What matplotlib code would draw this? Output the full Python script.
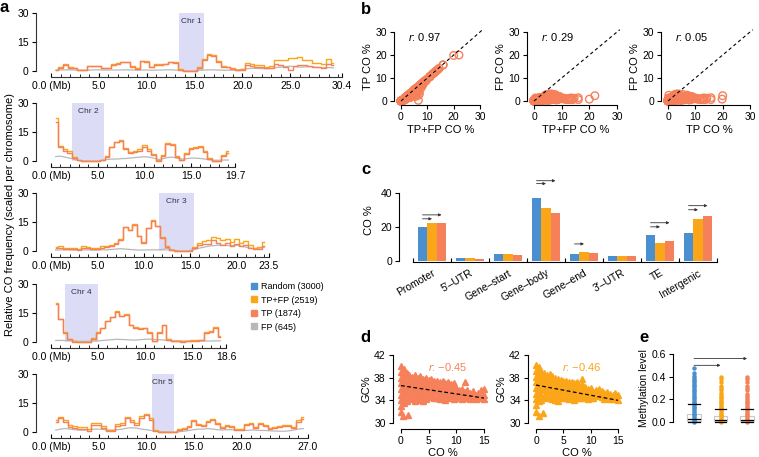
import matplotlib
matplotlib.use('Agg')
import matplotlib.pyplot as plt
from matplotlib.lines import Line2D
import numpy as np

plt.rcParams['font.family'] = ['Liberation Sans', 'DejaVu Sans']
plt.rcParams['mathtext.fontset'] = 'custom'
plt.rcParams['mathtext.it'] = 'Liberation Sans:italic'
plt.rcParams['mathtext.rm'] = 'Liberation Sans'
plt.rcParams['axes.linewidth'] = 0.8
plt.rcParams['xtick.major.width'] = 0.8
plt.rcParams['ytick.major.width'] = 0.8

BLUE = '#4a8fd0'
ORANGE = '#fba519'
CORAL = '#f5805a'
GRAY = '#b8b8b8'
CEN = '#dcdcf6'

# ---------------- panel a data (0.5 Mb windows starting at 0.5 Mb) ----------------
chrom_names = ['Chr 1', 'Chr 2', 'Chr 3', 'Chr 4', 'Chr 5']
chrom_len = [30.4, 19.7, 23.5, 18.6, 27.0]
centromere = [(13.4, 16.0), (2.3, 5.7), (11.6, 15.4), (1.5, 5.0), (10.6, 12.9)]
chrom_ticks = [[0, 5, 10, 15, 20, 25, 30.4], [0, 5, 10, 15, 19.7], [0, 5, 10, 15, 20, 23.5],
               [0, 5, 10, 15, 18.6], [0, 5, 10, 15, 20, 27.0]]

tpfp_chr1 = [0.5, 2.0, 3.5, 2.0, 1.7, 0.5, 0.5, 2.8, 2.8, 2.8, 1.7, 1.7, 3.5, 4.0, 4.9, 4.9, 2.5, 1.4, 5.4, 5.2,
             2.3, 3.5, 3.5, 3.8, 4.9, 4.5, 0.8, 0, 0, 0, 2.0, 6.0, 8.7, 8.2, 5.0, 2.5, 2.3, 1.5, 0.5, 1.0,
             4.3, 3.8, 3.1, 3.1, 2.3, 2.5, 5.7, 5.7, 5.5, 6.6, 6.6, 7.0, 5.7, 5.7, 4.0, 4.0, 3.5, 6.1, 4.0]
tp_chr1 = [0.3, 1.8, 3.2, 1.8, 1.5, 0.3, 0.3, 2.5, 2.5, 2.5, 1.5, 1.5, 3.2, 3.7, 4.6, 4.6, 2.2, 1.2, 5.1, 4.9,
           2.0, 3.2, 3.2, 3.5, 4.6, 4.2, 0.6, 0, 0, 0, 1.8, 5.8, 8.4, 7.9, 4.7, 2.2, 2.0, 1.2, 0.3, 0.6,
           3.0, 2.5, 2.0, 2.0, 1.3, 1.5, 3.5, 3.3, 2.0, 0.3, 2.5, 3.2, 3.0, 2.5, 2.0, 2.2, 1.5, 3.5, 3.0]
fp_chr1 = [0.4, 0.5, 0.6, 0.6, 0.5, 0.4, 0.4, 0.5, 0.6, 0.6, 0.5, 0.5, 0.5, 0.5, 0.6, 0.6, 0.5, 0.4, 0.5, 0.5,
           0.4, 0.5, 0.5, 0.6, 0.6, 0.5, 0.3, 0, 0, 0, 0.3, 0.5, 0.6, 0.6, 0.5, 0.4, 0.4, 0.5, 0.6, 0.8,
           1.2, 1.4, 1.3, 1.2, 1.2, 1.3, 1.8, 2.0, 2.3, 2.5, 2.2, 2.0, 2.1, 2.3, 2.0, 1.8, 1.6, 1.8, 1.6]

tpfp_chr2 = [22, 8, 6, 5, 2, 0.5, 0, 0, 0, 0, 0.6, 2.5, 7.5, 10, 11, 6.5, 4.5, 5.0, 6.0, 8.3,
             6.0, 3.5, 0.3, 3.0, 9.5, 9, 2.5, 0.5, 4.0, 6.6, 7.5, 7.8, 5.0, 1.4, 0, 0, 3.0, 5.0]
tp_chr2 = [20, 7, 5, 4, 1.6, 0.3, 0, 0, 0, 0, 0.4, 2.0, 7.0, 9.6, 10.5, 6.0, 4.0, 4.4, 5.2, 7.5,
           5.3, 3.0, 0.2, 2.5, 9.0, 8.5, 2.0, 0.3, 3.6, 6.0, 6.8, 7.0, 4.5, 1.2, 0, 0, 2.6, 4.2]
fp_chr2 = [2.3, 2.5, 2.0, 1.5, 0.8, 0.2, 0, 0, 0, 0, 0.3, 0.8, 1.0, 1.0, 1.2, 1.3, 1.5, 1.8, 2.0, 2.2,
           2.0, 1.5, 0.8, 1.2, 1.8, 2.0, 1.5, 1.0, 1.2, 1.5, 1.5, 1.3, 1.0, 0.6, 0.4, 0.4, 0.5, 0.5]

tpfp_chr3 = [2.0, 2.5, 1.5, 1.5, 1.5, 1.0, 2.5, 2.0, 1.5, 1.5, 2.5, 2.5, 3.0, 4.0, 6.0, 12.5, 11, 14, 8, 4.5,
             12, 16, 13, 7, 2.5, 0.5, 0, 0, 0, 0, 2.0, 4.0, 5.0, 5.5, 7.5, 6.5, 5.5, 6.0, 4.5, 6.0,
             4.0, 5.0, 3.0, 1.5, 2.0, 4.5]
tp_chr3 = [1.5, 1.8, 1.0, 1.0, 1.0, 0.5, 1.8, 1.5, 1.0, 1.0, 1.8, 2.0, 2.5, 3.6, 5.6, 12.2, 10.7, 13.7, 7.7, 4.2,
           11.7, 15.7, 12.7, 6.7, 2.2, 0.3, 0, 0, 0, 0, 1.5, 3.0, 3.5, 3.8, 5.5, 4.0, 3.0, 4.0, 2.5, 3.5,
           2.5, 3.0, 1.5, 0.8, 1.0, 2.5]
fp_chr3 = [0.5, 0.5, 0.6, 0.6, 0.5, 0.5, 0.6, 0.6, 0.5, 0.5, 0.6, 0.6, 0.8, 1.0, 1.2, 1.0, 0.8, 0.6, 0.5, 0.5,
           0.6, 0.6, 0.6, 0.8, 1.2, 0.8, 0.3, 0, 0, 0.3, 0.8, 1.5, 2.0, 2.5, 2.8, 3.0, 3.0, 2.8, 2.8, 3.0,
           2.5, 2.0, 1.5, 1.2, 1.5, 2.0]

tpfp_chr4 = [20, 12, 5, 1.5, 0.3, 0, 0, 0, 2.0, 5.0, 7.5, 11, 13, 16, 13.5, 14.5, 9, 8, 7, 7.5,
             5, 0.5, 5, 9, 1.5, 0.5, 0.5, 0.3, 0.5, 0.8, 1.0, 1.2, 5.0, 5.5, 8.0, 3.0]
tp_chr4 = [19.8, 11.8, 4.8, 1.3, 0.2, 0, 0, 0, 1.8, 4.7, 7.2, 10.7, 12.7, 15.7, 13.2, 14.2, 8.7, 7.5, 6.5, 7.0,
           4.6, 0.3, 4.7, 8.7, 1.2, 0.3, 0.3, 0.2, 0.3, 0.5, 0.6, 0.8, 4.7, 5.2, 7.5, 2.8]
fp_chr4 = [0.8, 0.8, 0.8, 0.7, 0.5, 0.3, 0.3, 0.4, 0.5, 0.6, 0.8, 1.0, 1.2, 1.4, 1.3, 1.2, 1.0, 1.0, 1.2, 1.4,
           1.5, 1.3, 1.2, 1.0, 0.8, 0.6, 0.6, 0.5, 0.5, 0.5, 0.4, 0.5, 0.5, 0.5, 0.6, 0.6]

tpfp_chr5 = [6, 8, 6, 3.5, 3, 2.5, 2.5, 1.5, 4.8, 4.5, 3, 1, 1.2, 4, 4.5, 8, 6, 4.5, 8.5, 9.5,
             7, 1, 0.2, 0, 0, 0, 1.5, 2, 3, 6, 4, 3.5, 5.5, 6.5, 4.5, 2.5, 3.5, 3, 1.5, 1.5,
             4, 4.5, 2.5, 4.5, 3.5, 2, 2.5, 3, 3.5, 3.5, 2.5, 6, 8]
tp_chr5 = [5, 7, 5, 2.5, 2, 1.5, 1.5, 0.5, 3.5, 3.5, 2, 0.3, 0.5, 3, 3.5, 7, 5, 3.5, 7.5, 8.8,
           6, 0.5, 0, 0, 0, 0, 1.2, 1.6, 2.5, 5.5, 3.5, 3, 5, 6, 4, 2, 3, 2.5, 1, 1,
           3.5, 4, 2, 4, 3, 1.5, 2, 2.5, 3, 3, 2, 5, 6.5]
fp_chr5 = [1.0, 1.5, 1.8, 1.5, 1.2, 1.0, 1.0, 1.2, 1.5, 1.5, 1.3, 1.0, 1.0, 1.2, 1.5, 2.0, 2.2, 2.0, 1.5, 1.2,
           0.8, 0.4, 0.1, 0, 0, 0, 0.2, 0.4, 0.8, 1.2, 1.5, 1.5, 1.8, 1.5, 1.2, 1.0, 1.2, 1.2, 1.0, 0.8,
           0.8, 1.0, 1.0, 0.8, 0.8, 0.6, 0.5, 0.4, 0.4, 0.6, 1.0, 1.5, 1.8]

tpfp_all = [tpfp_chr1, tpfp_chr2, tpfp_chr3, tpfp_chr4, tpfp_chr5]
tp_all = [tp_chr1, tp_chr2, tp_chr3, tp_chr4, tp_chr5]
fp_all = [fp_chr1, fp_chr2, fp_chr3, fp_chr4, fp_chr5]
win_start, win_step = 0.5, 0.5

legend_labels = ['Random (3000)', 'TP+FP (2519)', 'TP (1874)', 'FP (645)']

# ---------------- panel b ----------------
b_r = ['0.97', '0.29', '0.05']
b_xlabels = ['TP+FP CO %', 'TP+FP CO %', 'TP CO %']
b_ylabels = ['TP CO %', 'FP CO %', 'FP CO %']

# ---------------- panel c ----------------
features = ['Promoter', '5\u2032\u2013UTR', 'Gene\u2013start', 'Gene\u2013body', 'Gene\u2013end',
            '3\u2032\u2013UTR', 'TE', 'Intergenic']
c_random = [19.8, 1.8, 4.0, 36.6, 4.2, 3.2, 15.2, 16.4]
c_tpfp = [22.0, 1.6, 4.2, 30.9, 5.0, 3.2, 10.3, 24.6]
c_tp = [22.2, 1.4, 3.8, 28.1, 4.8, 3.0, 11.7, 26.5]
sig_groups = [0, 3, 4, 6, 7]
sig_short_y = [24.7, 45.3, 10.0, 20.0, 30.0]
sig_long_y = [27.0, 47.0, None, 22.4, 32.4]

# ---------------- panel d ----------------
d_tp_co = [0, 0, 0, 0, 0, 0, 0, 0, 0, 0.3, 0.5, 0.5, 0.5, 0.5, 0.5, 0.5, 0.5, 1, 1, 1, 1, 1, 1, 1.2,
           1.5, 1.5, 1.5, 1.5, 1.5, 2, 2, 2, 2, 2, 2.5, 2.5, 2.5, 2.5, 2.5, 2.5, 3, 3, 3, 3, 3,
           3.5, 3.5, 3.5, 3.5, 3.5, 4, 4, 4, 4, 4, 4.5, 4.5, 4.5, 4.5, 4.5, 5, 5, 5, 5, 5.5, 5.5, 5.5, 5.5,
           6, 6, 6, 6, 6.5, 6.5, 6.5, 6.5, 7, 7, 7, 7, 7.5, 7.5, 7.5, 7.5, 8, 8, 8, 8, 8.5, 8.5, 8.5, 8.5,
           9, 9, 9, 9.5, 9.5, 9.5, 9.5, 10, 10, 10, 10.5, 10.5, 11, 11, 11, 11.5, 11.5, 11.5, 12, 12,
           12.5, 12.5, 13, 13, 13.5, 13.5, 14, 14, 14.5, 14.5, 15, 15, 15]
d_tp_gc = [40.0, 39.0, 38.0, 37.0, 36.0, 35.0, 34.0, 33.0, 32.0, 31.2, 39.5, 38.5, 37.5, 36.5, 35.5, 34.5, 33.5,
           38.8, 37.8, 36.8, 35.8, 34.8, 33.8, 31.5, 38.5, 37.5, 36.5, 35.5, 34.5, 38.2, 37.2, 36.2, 35.2, 34.2,
           38.5, 37.5, 36.5, 35.5, 34.5, 33.8, 38.0, 37.0, 36.0, 35.0, 34.0, 38.3, 37.3, 36.3, 35.3, 34.3,
           37.8, 36.8, 35.8, 34.8, 33.8, 38.0, 37.0, 36.0, 35.0, 34.2, 37.6, 36.6, 35.6, 34.6, 37.8, 36.8, 35.8, 34.8,
           37.5, 36.5, 35.5, 34.5, 37.5, 36.5, 35.5, 34.5, 37.2, 36.2, 35.2, 34.2, 37.4, 36.4, 35.4, 34.4,
           37.0, 36.0, 35.0, 34.0, 37.2, 36.2, 35.2, 34.4, 36.8, 35.8, 34.8, 37.0, 36.0, 35.0, 34.2,
           36.2, 35.2, 34.4, 35.8, 34.8, 36.0, 35.0, 34.2, 37.3, 35.5, 34.5, 35.8, 34.8, 35.3, 34.3,
           35.6, 34.6, 35.0, 34.2, 35.3, 34.5, 35.8, 34.8, 36.0, 35.0, 34.2]
d_all_co = [0, 0, 0, 0, 0, 0, 0, 0, 0, 0.5, 0.5, 0.5, 0.5, 0.5, 0.5, 0.5, 0.5, 1, 1, 1, 1, 1, 1, 1.3,
            1.5, 1.5, 1.5, 1.5, 1.5, 2, 2, 2, 2, 2, 2.5, 2.5, 2.5, 2.5, 2.5, 3, 3, 3, 3, 3,
            3.5, 3.5, 3.5, 3.5, 3.5, 4, 4, 4, 4, 4, 4.5, 4.5, 4.5, 4.5, 5, 5, 5, 5, 5.5, 5.5, 5.5, 5.5,
            6, 6, 6, 6, 6.5, 6.5, 6.5, 6.5, 7, 7, 7, 7, 7.5, 7.5, 7.5, 7.5, 8, 8, 8, 8.5, 8.5, 8.5, 8.5,
            9, 9, 9, 9.5, 9.5, 9.5, 10, 10, 10, 10.5, 10.5, 11, 11, 11.5, 11.5, 12, 12, 12.5, 12.5,
            13, 13, 13.5, 13.5, 14, 14, 14.5, 14.5, 15, 15]
d_all_gc = [40.2, 39.2, 38.2, 37.2, 36.2, 35.2, 34.2, 33.2, 32.0, 31.3, 39.8, 38.8, 37.8, 36.8, 35.8, 34.8, 33.8,
            39.0, 38.0, 37.0, 36.0, 35.0, 34.0, 31.8, 38.8, 37.8, 36.8, 35.8, 34.6, 38.5, 37.5, 36.5, 35.5, 34.5,
            38.6, 37.6, 36.6, 35.6, 34.4, 38.3, 37.3, 36.3, 35.3, 34.3, 38.0, 37.0, 36.0, 35.0, 34.0,
            37.8, 36.8, 35.8, 34.8, 33.9, 37.6, 36.6, 35.6, 34.6, 37.4, 36.4, 35.4, 34.4, 37.5, 36.5, 35.5, 34.5,
            37.3, 36.3, 35.3, 34.3, 37.2, 36.2, 35.2, 34.4, 37.0, 36.0, 35.0, 34.0, 37.3, 36.3, 35.3, 34.5,
            36.4, 35.4, 34.4, 37.8, 36.8, 35.8, 34.8, 36.4, 35.4, 34.4, 36.0, 35.0, 34.2, 36.2, 35.2, 34.4,
            35.5, 34.5, 35.8, 34.8, 36.0, 35.0, 35.6, 34.6, 35.3, 34.3, 35.5, 34.5, 35.2, 34.2, 35.0, 34.2,
            35.3, 34.4, 35.0, 34.0]
d_fit_tp = (36.6, 34.4)     # fitted GC% at CO% = 0 and 15
d_fit_all = (36.7, 34.0)
d_r = ['\u22120.45', '\u22120.46']

# ---------------- panel e ----------------
e_random = [0.0, 0.01, 0.02, 0.03, 0.045, 0.06, 0.075, 0.09, 0.105, 0.12, 0.135, 0.15, 0.165, 0.18, 0.195,
            0.21, 0.225, 0.24, 0.255, 0.27, 0.285, 0.30, 0.315, 0.33, 0.345, 0.36, 0.375, 0.39, 0.41, 0.43, 0.48]
e_tpfp = [0.0, 0.01, 0.02, 0.03, 0.045, 0.06, 0.075, 0.09, 0.105, 0.12, 0.135, 0.15, 0.165, 0.18, 0.195,
          0.21, 0.225, 0.24, 0.26, 0.28, 0.30, 0.32, 0.35, 0.38, 0.40]
e_tp = [0.0, 0.01, 0.02, 0.03, 0.045, 0.06, 0.075, 0.09, 0.105, 0.12, 0.135, 0.15, 0.165, 0.18, 0.195,
        0.21, 0.23, 0.25, 0.28, 0.30, 0.32, 0.35, 0.38, 0.40]
e_q1 = [0.008, 0.005, 0.005]
e_q3 = [0.07, 0.05, 0.05]
e_mid = [0.025, 0.015, 0.015]
e_hi = [0.16, 0.115, 0.115]
e_lo = [0.0, 0.0, 0.0]

# ---------------- layout helpers ----------------
W, H = 759, 457
fig = plt.figure(figsize=(W / 100, H / 100), dpi=100)


def px_axes(left, top, right, bottom):
    return fig.add_axes([left / W, 1 - bottom / H, (right - left) / W, (bottom - top) / H])


def clean(ax):
    ax.spines['top'].set_visible(False)
    ax.spines['right'].set_visible(False)
    ax.tick_params(labelsize=7.5, length=3, pad=2)


# ---------------- panel a ----------------
chr_end_px = [342, 235, 269, 226, 308]
chr_y0_px = [71, 161, 251, 342, 432]
for i in range(5):
    L = chrom_len[i]
    ax = px_axes(51, chr_y0_px[i] - 58, chr_end_px[i], chr_y0_px[i])
    clean(ax)
    ax.set_xlim(0, L)
    ax.set_ylim(0, 30)
    ax.spines['left'].set_position(('outward', 11))
    ax.spines['bottom'].set_position(('outward', 4))
    ax.spines['left'].set_color('#333333')
    ax.spines['bottom'].set_color('#333333')
    c0, c1 = centromere[i]
    ax.axvspan(c0, c1, color=CEN, lw=0, zorder=0)
    ax.text((c0 + c1) / 2, 25.5, chrom_names[i], ha='center', va='center', fontsize=6, color='#333344')
    x_fp = win_start + win_step * np.arange(len(fp_all[i]))
    x_tpfp = win_start + win_step * np.arange(len(tpfp_all[i]))
    x_tp = win_start + win_step * np.arange(len(tp_all[i]))
    ax.plot(x_fp, fp_all[i], color=GRAY, lw=0.9, clip_on=False, zorder=2)
    ax.plot(x_tpfp, tpfp_all[i], color=ORANGE, lw=1.0, drawstyle='steps-mid', clip_on=False, zorder=3)
    ax.plot(x_tp, tp_all[i], color=CORAL, lw=1.0, drawstyle='steps-mid', clip_on=False, zorder=4)
    ax.set_yticks([0, 15, 30])
    ticks = chrom_ticks[i]
    ax.set_xticks(ticks)
    ax.set_xticklabels(['0.0 (Mb)'] + ['%.1f' % t for t in ticks[1:]])
    ax.set_xticks(np.arange(0, L, 1.0), minor=True)
    ax.tick_params(axis='x', which='both', direction='in')
    ax.tick_params(axis='x', which='major', length=3, pad=3)
    ax.tick_params(axis='x', which='minor', length=2)

fig.text(10 / W, 1 - 215 / H, 'Relative CO frequency (scaled per chromosome)', rotation=90,
         ha='center', va='center', fontsize=8)

handles = [Line2D([], [], marker='s', ls='', color=c, ms=4) for c in [BLUE, ORANGE, CORAL, GRAY]]
fig.legend(handles, legend_labels, loc='upper left', bbox_to_anchor=(250 / W, 1 - 282 / H),
           frameon=False, fontsize=6.5, handlelength=0.8, handletextpad=0.4, labelspacing=0.5,
           borderaxespad=0, borderpad=0)

# ---------------- panel b ----------------
all_tpfp = np.concatenate(tpfp_all)
all_tp = np.concatenate(tp_all)
all_fp = np.concatenate(fp_all)
b_pairs = [(all_tpfp, all_tp), (all_tpfp, all_fp), (all_tp, all_fp)]
b_left = [401, 534, 668]
b_right = [480, 617, 750]
for k in range(3):
    ax = px_axes(b_left[k], 32, b_right[k], 101)
    clean(ax)
    ax.set_xlim(0, 30)
    ax.set_ylim(0, 30)
    ax.spines['left'].set_position(('outward', 5))
    ax.spines['bottom'].set_position(('outward', 3))
    xs, ys = b_pairs[k]
    ax.scatter(xs, ys, s=30, facecolor='none', edgecolor=CORAL, lw=1.0, clip_on=False, zorder=2)
    ax.plot([0, 31], [0, 31], ls=(0, (3, 2.5)), color='black', lw=0.8, clip_on=False, zorder=3)
    ax.set_xticks([0, 10, 20, 30])
    ax.set_yticks([0, 10, 20, 30])
    ax.text(2.7, 27.8, '$r$: ' + b_r[k], fontsize=8, va='center', ha='left')
    ax.set_xlabel(b_xlabels[k], fontsize=8, labelpad=2)
    ax.set_ylabel(b_ylabels[k], fontsize=8, labelpad=2)

# ---------------- panel c ----------------
ax = px_axes(413, 179, 717, 261)
clean(ax)
ax.set_xlim(-0.5, 7.5)
ax.set_ylim(0, 48)
ax.spines['left'].set_position(('outward', 10))
ax.spines['left'].set_bounds(0, 40)
ax.spines['bottom'].set_position(('outward', 1))
gx = np.arange(len(features))
ax.bar(gx - 0.25, c_random, width=0.25, color=BLUE)
ax.bar(gx, c_tpfp, width=0.25, color=ORANGE)
ax.bar(gx + 0.25, c_tp, width=0.25, color=CORAL)
for g, ys, yl in zip(sig_groups, sig_short_y, sig_long_y):
    ax.annotate('', xy=(g, ys), xytext=(g - 0.25, ys),
                arrowprops=dict(arrowstyle='-|>', lw=0.6, color='#333333', mutation_scale=4,
                                shrinkA=0, shrinkB=0))
    if yl is not None:
        ax.annotate('', xy=(g + 0.25, yl), xytext=(g - 0.25, yl),
                    arrowprops=dict(arrowstyle='-|>', lw=0.6, color='#333333', mutation_scale=4,
                                    shrinkA=0, shrinkB=0))
ax.set_yticks([0, 20, 40])
ax.set_xticks(np.arange(-0.5, 8, 1.0))
ax.set_xticklabels([])
ax.tick_params(axis='x', direction='in', length=3)
ax.set_xticks(gx, minor=True)
ax.set_xticklabels(features, minor=True, rotation=30, ha='right', va='top', rotation_mode='anchor',
                   fontsize=7.5)
ax.tick_params(axis='x', which='minor', length=0, pad=4)
ax.set_ylabel('CO %', fontsize=8, labelpad=5)

# ---------------- panel d ----------------
d_sets = [(d_tp_co, d_tp_gc, CORAL, d_fit_tp), (d_all_co, d_all_gc, ORANGE, d_fit_all)]
d_left = [401, 536]
d_right = [484, 618]
for k in range(2):
    co, gc, col, fit = d_sets[k]
    ax = px_axes(d_left[k], 355, d_right[k], 423)
    clean(ax)
    ax.set_xlim(0, 15)
    ax.set_ylim(30, 42)
    ax.spines['left'].set_position(('outward', 6))
    ax.spines['bottom'].set_position(('outward', 4))
    ax.plot(co, gc, ls='', marker='^', ms=5, color=col, mec=col, clip_on=False, zorder=2)
    ax.plot([0, 15], list(fit), ls=(0, (3, 2)), color='black', lw=0.9, zorder=3)
    ax.text(4.8, 39.9, '$r$: ' + d_r[k], color=col, fontsize=8, va='center', ha='left')
    ax.set_xticks([0, 5, 10, 15])
    ax.set_yticks([30, 34, 38, 42])
    ax.set_xlabel('CO %', fontsize=8, labelpad=2)
    ax.set_ylabel('GC%', fontsize=8, labelpad=2)

# ---------------- panel e ----------------
ax = px_axes(680, 354, 759, 422)
clean(ax)
ax.spines['bottom'].set_visible(False)
ax.spines['left'].set_position(('outward', 5))
ax.set_xlim(-0.53, 2.45)
ax.set_ylim(0, 0.6)
ax.set_xticks([])
ax.set_yticks([0, 0.2, 0.4, 0.6])
ax.set_yticklabels(['0.0', '0.2', '0.4', '0.6'])
e_pts = [e_random, e_tpfp, e_tp]
e_cols = [BLUE, ORANGE, CORAL]
ax.bar(range(3), np.array(e_q3) - np.array(e_q1), bottom=e_q1, width=0.5, facecolor='white',
       edgecolor='#c8c8c8', lw=0.8, zorder=1)
for k in range(3):
    ax.plot([k] * len(e_pts[k]), e_pts[k], ls='', marker='o', ms=3.2, color=e_cols[k], mew=0,
            clip_on=False, zorder=2)
    for v in (e_lo[k], e_mid[k], e_hi[k]):
        ax.plot([k - 0.22, k + 0.22], [v, v], color='black', lw=0.9, zorder=3, clip_on=False)
ax.annotate('', xy=(1, 0.50), xytext=(0, 0.50),
            arrowprops=dict(arrowstyle='-|>', lw=0.6, color='#333333', mutation_scale=4, shrinkA=0, shrinkB=0))
ax.annotate('', xy=(2, 0.56), xytext=(0, 0.56),
            arrowprops=dict(arrowstyle='-|>', lw=0.6, color='#333333', mutation_scale=4, shrinkA=0, shrinkB=0))
ax.set_ylabel('Methylation level', fontsize=7.5, labelpad=2)

# ---------------- panel letters ----------------
for lab, x, y in [('a', 4, 8), ('b', 366, 9), ('c', 366, 169), ('d', 365, 338), ('e', 644, 337)]:
    fig.text(x / W, 1 - y / H, lab, fontsize=12, fontweight='bold', ha='center', va='center')

fig.savefig('out.png', dpi=100)
